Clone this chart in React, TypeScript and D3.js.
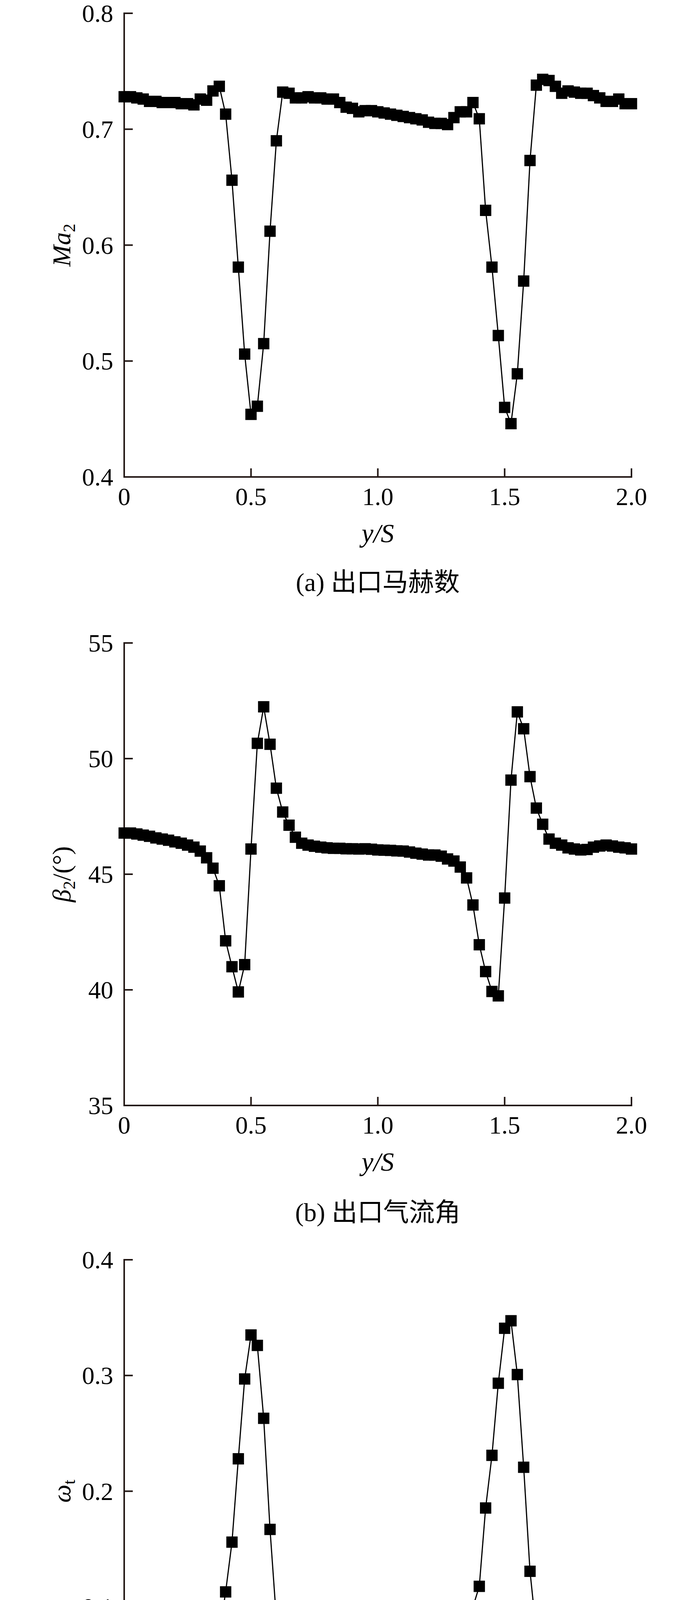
import React from 'react';
import * as d3 from 'd3';

// y/S positions of the probe points
const yS = [
  0, 0.025, 0.05, 0.075, 0.1, 0.125, 0.15, 0.175, 0.2, 0.225,
  0.25, 0.275, 0.3, 0.325, 0.35, 0.375, 0.4, 0.425, 0.45, 0.475,
  0.5, 0.525, 0.55, 0.575, 0.6, 0.625, 0.65, 0.675, 0.7, 0.725,
  0.75, 0.775, 0.8, 0.825, 0.85, 0.875, 0.9, 0.925, 0.95, 0.975,
  1.0, 1.025, 1.05, 1.075, 1.1, 1.125, 1.15, 1.175, 1.2, 1.225,
  1.25, 1.275, 1.3, 1.325, 1.35, 1.375, 1.4, 1.425, 1.45, 1.475,
  1.5, 1.525, 1.55, 1.575, 1.6, 1.625, 1.65, 1.675, 1.7, 1.725,
  1.75, 1.775, 1.8, 1.825, 1.85, 1.875, 1.9, 1.925, 1.95, 1.975,
  2.0,
];

// (a) exit Mach number
const ma2 = [
  0.728, 0.728, 0.727, 0.726, 0.724, 0.724, 0.723, 0.723, 0.723, 0.722,
  0.722, 0.721, 0.726, 0.725, 0.733, 0.737, 0.713, 0.656, 0.581, 0.506,
  0.454, 0.461, 0.515, 0.612, 0.69, 0.732, 0.731, 0.727, 0.727, 0.728,
  0.727, 0.727, 0.726, 0.726, 0.723, 0.719, 0.718, 0.715, 0.716, 0.716,
  0.715, 0.714, 0.713, 0.712, 0.711, 0.71, 0.709, 0.708, 0.706, 0.705,
  0.705, 0.704, 0.71, 0.715, 0.715, 0.723, 0.709, 0.63, 0.581, 0.522,
  0.46, 0.446, 0.489, 0.569, 0.673, 0.738, 0.743, 0.742, 0.737, 0.731,
  0.733, 0.732, 0.731, 0.731, 0.729, 0.727, 0.724, 0.724, 0.726, 0.722,
  0.722,
];

// (b) exit flow angle
const beta2 = [
  46.78, 46.78, 46.74, 46.69, 46.64, 46.57, 46.52, 46.47, 46.4, 46.34,
  46.26, 46.17, 46.0, 45.71, 45.26, 44.5, 42.12, 41.0, 39.91, 41.09,
  46.09, 50.66, 52.24, 50.62, 48.72, 47.69, 47.12, 46.6, 46.34, 46.26,
  46.21, 46.17, 46.14, 46.12, 46.12, 46.1, 46.1, 46.09, 46.1, 46.08,
  46.05, 46.04, 46.03, 46.01, 46.0, 45.96, 45.91, 45.87, 45.83, 45.83,
  45.78, 45.66, 45.57, 45.31, 44.84, 43.67, 41.95, 40.79, 39.93, 39.74,
  43.97, 49.07, 52.02, 51.29, 49.22, 47.86, 47.16, 46.52, 46.34, 46.26,
  46.14, 46.09, 46.05, 46.07, 46.17, 46.22, 46.26, 46.22, 46.17, 46.14,
  46.09,
];

// (c) total pressure loss
const omegaT = [
  0.0555, 0.0572, 0.0582, 0.0596, 0.0613, 0.0616, 0.0613, 0.064, 0.0647, 0.0658,
  0.0681, 0.0726, 0.0733, 0.072, 0.0699, 0.076, 0.113, 0.156, 0.228, 0.297,
  0.335, 0.326, 0.263, 0.167, 0.0897, 0.0555, 0.0487, 0.047, 0.0487, 0.0504,
  0.0521, 0.0538, 0.0548, 0.0562, 0.0582, 0.0599, 0.0623, 0.0647, 0.0664, 0.0675,
  0.0692, 0.0709, 0.0726, 0.0743, 0.0743, 0.0794, 0.0822, 0.0829, 0.0822, 0.088,
  0.0887, 0.0887, 0.0887, 0.0897, 0.0904, 0.1, 0.1178, 0.1855, 0.231, 0.2933,
  0.3408, 0.3473, 0.3008, 0.2207, 0.1308, 0.0777, 0.0658, 0.0658, 0.0668, 0.0681,
  0.0709, 0.0726, 0.0743, 0.076, 0.0777, 0.0788, 0.0794, 0.0805, 0.0818, 0.0835,
  0.0863,
];

const xTicks = [0.5, 1.0, 1.5, 2.0];
const xTickLabels = ['0', '0.5', '1.0', '1.5', '2.0'];
const xLabelValues = [0, 0.5, 1.0, 1.5, 2.0];
const maTicks = [0.4, 0.5, 0.6, 0.7, 0.8];
const betaTicks = [35, 40, 45, 50, 55];
const omegaTicks = [0.1, 0.2, 0.3, 0.4];

const LEFT = 318;
const RIGHT = 1617;
const INK = '#231815';
const SERIF = '"Liberation Serif", "Times New Roman", serif';
const CAPTION_FONT = '"Liberation Serif", "Noto Sans CJK SC", serif';

interface PanelProps {
  top: number;
  bottom: number;
  values: number[];
  domain: [number, number];
  ticks: number[];
  fmt: (v: number) => string;
  yLabel: React.ReactNode;
  caption: string;
  captionGap: number;
}

const Panel: React.FC<PanelProps> = ({
  top,
  bottom,
  values,
  domain,
  ticks,
  fmt,
  yLabel,
  caption,
  captionGap,
}) => {
  const x = d3.scaleLinear().domain([0, 2]).range([LEFT, RIGHT]);
  const y = d3.scaleLinear().domain(domain).range([bottom, top]);
  const pts = values.map((v, i) => [x(yS[i]), y(v)] as [number, number]);
  const line = d3.line();
  const size = 29;
  const midX = (LEFT + RIGHT) / 2;

  return (
    <g>
      {/* axes */}
      <line x1={LEFT} y1={top} x2={LEFT} y2={bottom} stroke={INK} strokeWidth={4} strokeLinecap="square" />
      <line x1={LEFT} y1={bottom} x2={RIGHT} y2={bottom} stroke={INK} strokeWidth={4} strokeLinecap="square" />
      {ticks.map((t) => (
        <g key={'y' + t}>
          <line x1={LEFT} x2={LEFT + 22} y1={y(t)} y2={y(t)} stroke={INK} strokeWidth={4} />
          <text x={LEFT - 28} y={y(t) + 22} textAnchor="end" fontSize={64} fontFamily={SERIF}>
            {fmt(t)}
          </text>
        </g>
      ))}
      {xTicks.map((t) => (
        <line key={'x' + t} x1={x(t)} x2={x(t)} y1={bottom} y2={bottom - 22} stroke={INK} strokeWidth={4} />
      ))}
      {xLabelValues.map((t, i) => (
        <text key={'xl' + t} x={x(t)} y={bottom + 72} textAnchor="middle" fontSize={64} fontFamily={SERIF}>
          {xTickLabels[i]}
        </text>
      ))}

      {/* series */}
      <path d={line(pts) ?? ''} fill="none" stroke="#000" strokeWidth={3} />
      {pts.map(([px, py], i) => (
        <rect key={i} x={px - size / 2} y={py - size / 2} width={size} height={size} fill="#000" />
      ))}

      {/* labels */}
      <text
        transform={`translate(180,${(top + bottom) / 2}) rotate(-90)`}
        textAnchor="middle"
        fontSize={66}
        fontFamily={SERIF}
      >
        {yLabel}
      </text>
      <text x={midX} y={bottom + 167} textAnchor="middle" fontSize={68} fontFamily={SERIF} fontStyle="italic">
        y/S
      </text>
      <text x={midX} y={bottom + captionGap} textAnchor="middle" fontSize={66} fontFamily={CAPTION_FONT}>
        {caption}
      </text>
    </g>
  );
};

const App: React.FC = () => {
  return (
    <>
      <style>{'body{margin:0}'}</style>
      <svg width={1772} height={4692} style={{ display: 'block', background: '#fff' }}>
        <rect width={1772} height={4692} fill="#fff" />
        <Panel
          top={34}
          bottom={1221}
          values={ma2}
          domain={[0.4, 0.8]}
          ticks={maTicks}
          fmt={(v) => v.toFixed(1)}
          yLabel={
            <>
              <tspan fontStyle="italic">Ma</tspan>
              <tspan fontSize={44} dy={12}>2</tspan>
            </>
          }
          caption="(a) 出口马赫数"
          captionGap={292}
        />
        <Panel
          top={1646}
          bottom={2830}
          values={beta2}
          domain={[35, 55]}
          ticks={betaTicks}
          fmt={(v) => String(v)}
          yLabel={
            <>
              <tspan fontStyle="italic">β</tspan>
              <tspan fontSize={44} dy={12}>2</tspan>
              <tspan dy={-12}>/(°)</tspan>
            </>
          }
          caption="(b) 出口气流角"
          captionGap={296}
        />
        <Panel
          top={3225}
          bottom={4410}
          values={omegaT}
          domain={[0, 0.4]}
          ticks={omegaTicks}
          fmt={(v) => v.toFixed(1)}
          yLabel={
            <>
              <tspan fontStyle="italic">ω</tspan>
              <tspan fontSize={44} dy={12}>t</tspan>
            </>
          }
          caption="(c) 总压损失"
          captionGap={268}
        />
      </svg>
    </>
  );
};

export default App;
